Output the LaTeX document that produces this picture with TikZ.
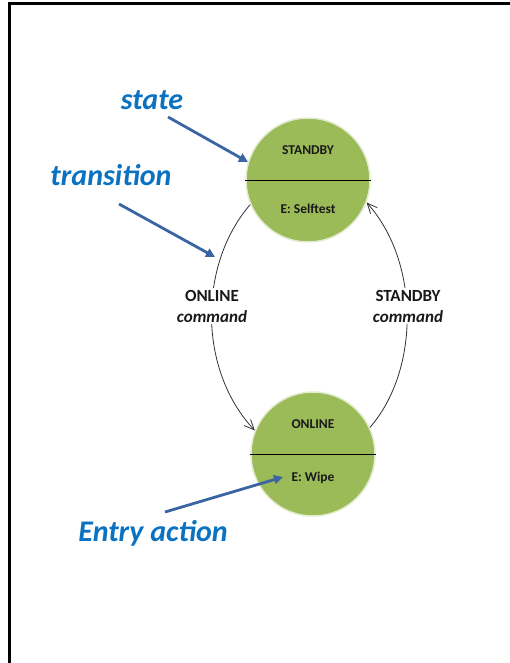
\documentclass[tikz,border=0pt]{standalone}
\usepackage{fontspec}
\setmainfont{Carlito}
\usetikzlibrary{arrows.meta}
\definecolor{stategreen}{HTML}{9BBB59}
\definecolor{stateedge}{HTML}{E2ECCF}
\definecolor{annblue}{HTML}{0A72C0}
\definecolor{arrblue}{HTML}{3B64A2}
\tikzset{
  statecirc/.style={circle, fill=stategreen, draw=stateedge, line width=1.5pt, minimum size=124pt, inner sep=0pt},
  statetxt/.style={font=\fontsize{13.5}{15}\selectfont\bfseries, text=black!90, inner sep=0pt},
  annot/.style={font=\fontsize{30}{32}\selectfont\bfseries\itshape, text=annblue, inner sep=0pt},
  annarrow/.style={draw=arrblue, line width=2.8pt, -{Triangle[length=9pt,width=9pt]}},
  trans/.style={draw=black!80, line width=0.8pt, -{Straight Barb[length=10pt,width=9pt,line width=0.8pt]}},
  translabel/.style={font=\fontsize{17}{21}\selectfont\bfseries, align=center, fill=white, inner sep=2pt, text=black!90},
  frameline/.style={line width=3pt, black}
}
\begin{document}
\begin{tikzpicture}[x=1pt,y=-1pt]
\useasboundingbox (0,0) rectangle (510,663);
\coordinate (fl) at (9,663);
\coordinate (ftl) at (9,4);
\coordinate (ftr) at (510,4);
\draw[frameline] (fl) -- (ftl) -- (ftr);
% states
\node[statecirc] (sb) at (308,180) {};
\node[statecirc] (on) at (313,454) {};
\draw[black, line width=0.9pt] (sb.west) -- (sb.east);
\draw[black, line width=0.9pt] (on.west) -- (on.east);
\node[statetxt] (sbname) at (308,150) {STANDBY};
\node[statetxt] (sbentry) at (308,209) {E: Selftest};
\node[statetxt] (onname) at (313,424) {ONLINE};
\node[statetxt] (onentry) at (313,478) {E: Wipe};
% transitions
\draw[trans] (sb.203) .. controls (198,265) and (198,370) .. (on.158);
\draw[trans] (on.25) .. controls (420,370) and (420,262) .. (sb.339);
\node[translabel] (onlbl) at (212,306) {ONLINE\\\textit{command}};
\node[translabel] (sblbl) at (408,306) {STANDBY\\\textit{command}};
% annotations
\node[annot] (tstate) at (152,100) {state};
\node[annot] (ttrans) at (111,175) {transition};
\node[annot] (tentry) at (153,533) {Entry action};
\coordinate (a1s) at (168,117);
\coordinate (a1e) at (248,162);
\coordinate (a2s) at (119,204);
\coordinate (a2e) at (215,257);
\coordinate (a3s) at (165,512);
\coordinate (a3e) at (283,477);
\draw[annarrow] (a1s) -- (a1e);
\draw[annarrow] (a2s) -- (a2e);
\draw[annarrow] (a3s) -- (a3e);
\end{tikzpicture}
\end{document}
